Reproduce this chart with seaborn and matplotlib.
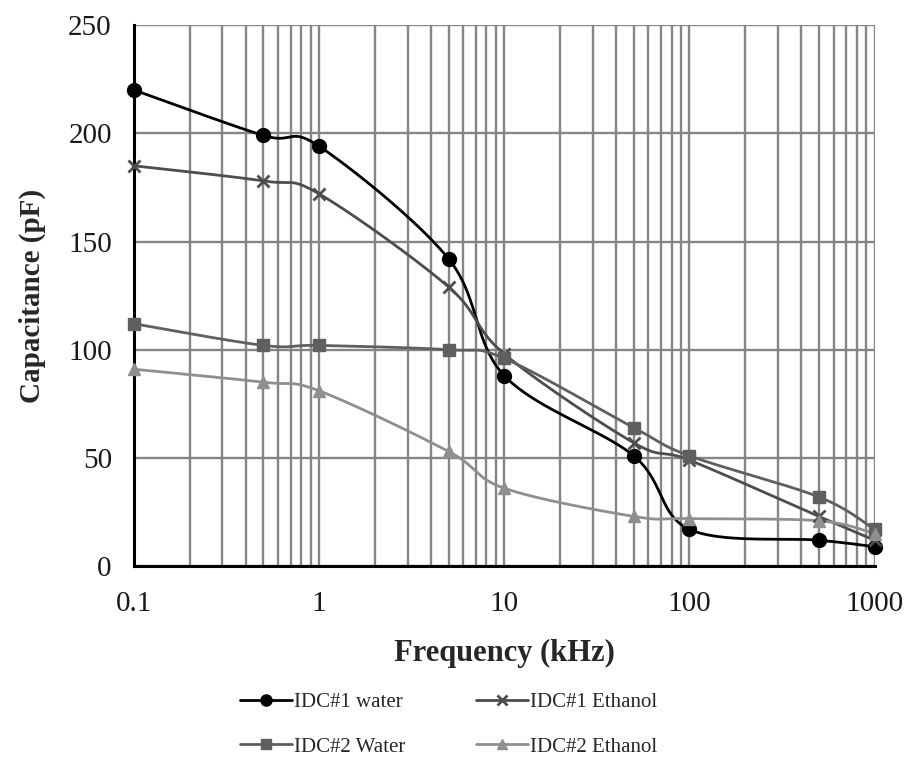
import numpy as np
import pandas as pd
import matplotlib
matplotlib.use("Agg")
import matplotlib.pyplot as plt
from matplotlib.lines import Line2D
from matplotlib.ticker import FixedLocator, NullFormatter, FixedFormatter
import seaborn as sns

freq = [0.1, 0.5, 1, 5, 10, 50, 100, 500, 1000]
idc1_water = [220, 199, 194, 142, 88, 51, 17, 12, 9]
idc1_ethanol = [185, 178, 172, 129, 98, 57, 49, 23, 12]
idc2_water = [112, 102, 102, 100, 96, 64, 51, 32, 17]
idc2_ethanol = [91, 85, 81, 53, 36, 23, 22, 21, 15]
series_names = ["IDC#1 water", "IDC#1 Ethanol", "IDC#2 Water", "IDC#2 Ethanol"]
x_ticks = [0.1, 1, 10, 100, 1000]
x_tick_labels = ["0.1", "1", "10", "100", "1000"]
y_ticks = [0, 50, 100, 150, 200, 250]

sns.set_style("white")
plt.rcParams['font.family'] = ['Liberation Serif', 'DejaVu Serif']

def smooth(xs, ys, n=40):
    # Catmull-Rom (Excel-like smoothed line) in log-x space
    lx = np.log10(np.asarray(xs, float))
    y = np.asarray(ys, float)
    P = np.column_stack([lx, y])
    P = np.vstack([P[0], P, P[-1]])
    out = []
    for i in range(1, len(P) - 2):
        p0, p1, p2, p3 = P[i - 1], P[i], P[i + 1], P[i + 2]
        c1 = p1 + (p2 - p0) / 6.0
        c2 = p2 - (p3 - p1) / 6.0
        t = np.linspace(0, 1, n)[:, None]
        seg = (1 - t) ** 3 * p1 + 3 * (1 - t) ** 2 * t * c1 + 3 * (1 - t) * t ** 2 * c2 + t ** 3 * p2
        out.append(seg if i == 1 else seg[1:])
    S = np.vstack(out)
    return 10 ** S[:, 0], S[:, 1]

fig = plt.figure(figsize=(9.12, 7.61), dpi=100)
ax = fig.add_axes([0.147, 0.256, 0.812, 0.711])

styles = [
    (idc1_water, "#000000", "o", 10, 1.0),
    (idc1_ethanol, "#4d4d4d", "x", 9, 2.0),
    (idc2_water, "#5f5f5f", "s", 8.5, 1.0),
    (idc2_ethanol, "#8f8f8f", "^", 9, 1.0),
]

handles = []
for (vals, col, mk, ms, mew), name in zip(styles, series_names):
    sx, sy = smooth(freq, vals)
    sns.lineplot(x=sx, y=sy, ax=ax, color=col, lw=2.0, sort=False, estimator=None, zorder=3)
    ax.plot(freq, vals, linestyle="none", marker=mk, markersize=ms, color=col,
            markeredgewidth=mew, zorder=6, clip_on=False)
    handles.append(Line2D([0], [0], color=col, lw=2.0, marker=mk, markersize=ms * 0.8,
                          markeredgewidth=mew))

ax.set_xscale("log")
ax.set_xlim(0.1, 1000)
ax.set_ylim(0, 250)
ax.xaxis.set_major_locator(FixedLocator(x_ticks))
ax.xaxis.set_major_formatter(FixedFormatter(x_tick_labels))
minors = [m * 10.0 ** e for e in range(-1, 3) for m in range(2, 10)]
ax.xaxis.set_minor_locator(FixedLocator(minors))
ax.xaxis.set_minor_formatter(NullFormatter())
ax.set_yticks(y_ticks)

ax.grid(True, which="both", axis="x", color="#858585", lw=1.7, zorder=0)
ax.grid(True, which="major", axis="y", color="#858585", lw=1.7, zorder=0)
ax.set_axisbelow(True)

for s in ["top", "right"]:
    ax.spines[s].set_visible(False)
for s in ["left", "bottom"]:
    ax.spines[s].set_color("black")
    ax.spines[s].set_linewidth(2.2)
    ax.spines[s].set_zorder(5)

ax.tick_params(axis="x", which="major", direction="out", length=6, width=2, color="black",
               labelsize=21, pad=12)
ax.tick_params(axis="x", which="minor", length=0)
ax.tick_params(axis="y", which="major", direction="out", length=0, labelsize=21, pad=16)
for lab in ax.get_xticklabels() + ax.get_yticklabels():
    lab.set_color("#1a1a1a")

ax.set_xlabel("Frequency (kHz)", fontsize=22, fontweight="bold", labelpad=16)
ax.set_ylabel("Capacitance (pF)", fontsize=21, fontweight="bold", labelpad=16)

order = [0, 2, 1, 3]
fig.legend([handles[i] for i in order], [series_names[i] for i in order],
           loc="center", bbox_to_anchor=(0.492, 0.048), ncol=2,
           frameon=False, fontsize=15, handlelength=2.5, columnspacing=3.4,
           handletextpad=0.1, labelspacing=1.2)

fig.savefig("out.png", dpi=100)
